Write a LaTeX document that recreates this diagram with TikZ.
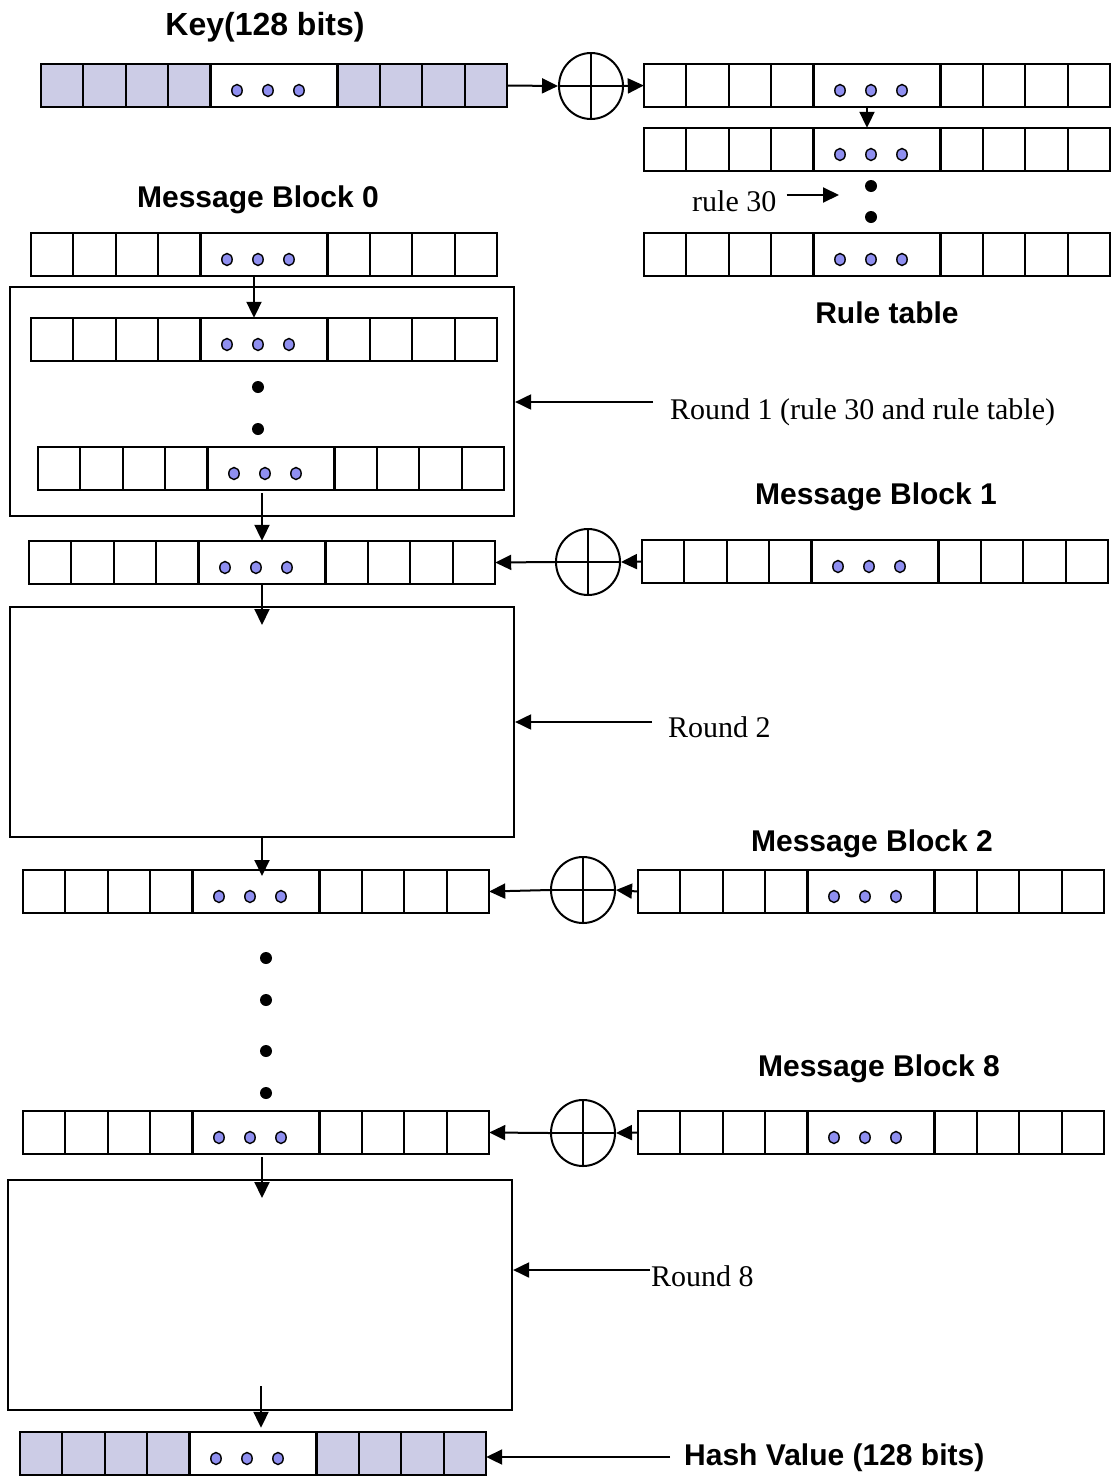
\documentclass[tikz,border=0pt]{standalone}
\usepackage{fontspec}
\setmainfont{Liberation Serif}
\newfontfamily\headfont{Liberation Sans}
\usetikzlibrary{arrows.meta,calc}

\definecolor{keyfill}{HTML}{CCCCE6}
\definecolor{dotfill}{HTML}{8F8FF0}

\tikzset{
  regline/.style={line width=2.2pt},
  arr/.style={line width=2pt,-{Triangle[length=16pt,width=15pt]}},
  xorc/.style={ellipse,draw,line width=2pt,minimum width=64pt,minimum height=66pt,inner sep=0pt},
  bdot/.style={circle,fill=black,minimum size=12pt,inner sep=0pt},
  mdot/.style={draw,line width=1.4pt,fill=dotfill},
  regbox/.style={rectangle,minimum width=466pt,minimum height=43pt,inner sep=0pt},
  roundbox/.style={rectangle,draw,line width=2.2pt,minimum width=504pt,minimum height=230pt,inner sep=0pt},
  title/.style={font=\headfont\bfseries\fontsize{30}{36}\selectfont,inner sep=0pt},
  lbl/.style={font=\fontsize{30}{36}\selectfont,inner sep=0pt}
}
\usetikzlibrary{shapes.geometric}

% A 128-bit register: four cells, a wide middle cell with three dots, four cells.
% #1 name, #2 left x, #3 top y, #4 fill of the bit cells
\newcommand{\bitregister}[4]{%
  \node[regbox,fill=#4] (#1) at (#2+233,#3+21.5) {};
  \fill[white] (#2+4*42.36,#3) rectangle (#2+7*42.36,#3+43);
  \foreach \k in {1,2,3,4,7,8,9,10}
    \draw[regline] (#2+\k*42.36,#3) -- (#2+\k*42.36,#3+43);
  \foreach \d in {-37,-6,25}
    \draw[mdot] (#2+5.5*42.36+\d,#3+26.5) ellipse [x radius=5.2pt,y radius=6pt];
  \draw[regline] (#1.north west) rectangle (#1.south east);
}

% XOR symbol: ellipse with a cross
\newcommand{\xorsym}[3]{%
  \node[xorc] (#1) at (#2,#3) {};
  \draw[line width=2pt] (#1.north) -- (#1.south) (#1.west) -- (#1.east);
}

\begin{document}
\begin{tikzpicture}[x=1pt,y=-1pt]
\useasboundingbox (0,0) rectangle (1112,1478);

% ---- key and rule table ----
\node[title,anchor=base,font=\headfont\bfseries\fontsize{32}{38}\selectfont] (keyt) at (265,35) {Key(128 bits)};
\bitregister{key}{41}{64}{keyfill}
\xorsym{x1}{591}{86}
\bitregister{rt1}{644}{64}{white}
\bitregister{rt2}{644}{128}{white}
\bitregister{rt3}{644}{233}{white}
\draw[arr] (key.east) -- (x1.west);
\draw[arr] (x1.east) -- (rt1.west);
\draw[arr] ([xshift=-10pt]rt1.south) -- ([xshift=-10pt]rt2.north);
\node[bdot] (rtd1) at (871,186) {};
\node[bdot] (rtd2) at (871,217) {};
\node[lbl,anchor=base west] (r30) at (692,211) {rule 30};
\coordinate (r30tip) at (839,195);
\draw[arr] ([xshift=10pt]r30.east |- r30tip) -- (r30tip);
\node[title,anchor=base] (rtt) at (887,323) {Rule table};

% ---- round 1 ----
\node[title,anchor=base] (mb0t) at (258,207) {Message Block 0};
\bitregister{mb0}{31}{233}{white}
\node[roundbox,minimum height=229pt] (round1) at (262,401.5) {};
\bitregister{r1a}{31}{318}{white}
\node[bdot] (r1d1) at (258,387) {};
\node[bdot] (r1d2) at (258,429) {};
\bitregister{r1b}{38}{447}{white}
\draw[arr] ([xshift=-10pt]mb0.south) -- ([xshift=-10pt]r1a.north);
\coordinate (l1) at (653,402);
\draw[arr] (l1) -- (round1.east |- l1);
\node[lbl,anchor=base west] (round1t) at (670,419) {Round 1 (rule 30 and rule table)};

% ---- message block 1 ----
\node[title,anchor=base] (mb1t) at (876,504) {Message Block 1};
\bitregister{s1}{29}{541}{white}
\xorsym{x2}{588}{562}
\bitregister{mb1}{642}{540}{white}
\coordinate (a1) at (262,493);
\draw[arr] (a1) -- (a1 |- s1.north);
\draw[arr] (mb1.west) -- (x2.east);
\draw[arr] (x2.west) -- (s1.east);

% ---- round 2 ----
\node[roundbox] (round2) at (262,722) {};
\coordinate (r2in) at (262,625);
\draw[arr] (s1.south -| r2in) -- (r2in);
\coordinate (l2) at (652,722);
\draw[arr] (l2) -- (round2.east |- l2);
\node[lbl,anchor=base west] (round2t) at (668,737) {Round 2};

% ---- message block 2 ----
\node[title,anchor=base] (mb2t) at (872,851) {Message Block 2};
\bitregister{s2}{23}{870}{white}
\xorsym{x3}{583}{890}
\bitregister{mb2}{638}{870}{white}
\coordinate (s2in) at (262,876);
\draw[arr] (round2.south) -- (s2in);
\draw[arr] (mb2.west) -- (x3.east);
\draw[arr] (x3.west) -- (s2.east);

% ---- elided rounds ----
\node[bdot] (e1) at (266,958) {};
\node[bdot] (e2) at (266,1000) {};
\node[bdot] (e3) at (266,1051) {};
\node[bdot] (e4) at (266,1093) {};

% ---- message block 8 ----
\node[title,anchor=base] (mb8t) at (879,1076) {Message Block 8};
\bitregister{s8}{23}{1111}{white}
\xorsym{x4}{583}{1133}
\bitregister{mb8}{638}{1111}{white}
\draw[arr] (mb8.west) -- (x4.east);
\draw[arr] (x4.west) -- (s8.east);

% ---- round 8 ----
\node[roundbox] (round8) at (260,1295) {};
\coordinate (r8in) at (262,1198);
\draw[arr] ([yshift=-3pt]r8in |- s8.south) -- (r8in);
\coordinate (l8) at (650,1270);
\draw[arr] (l8) -- (round8.east |- l8);
\node[lbl,anchor=base west] (round8t) at (651,1286) {Round 8};

% ---- hash value ----
\bitregister{hash}{20}{1432}{keyfill}
\coordinate (hsrc) at (261,1386);
\draw[arr,shorten >=4pt] (hsrc) -- (hsrc |- hash.north);
\coordinate (lh) at (670,1457);
\draw[arr] (lh) -- (hash.east |- lh);
\node[title,anchor=base west] (hasht) at (684,1465) {Hash Value (128 bits)};
\end{tikzpicture}
\end{document}
